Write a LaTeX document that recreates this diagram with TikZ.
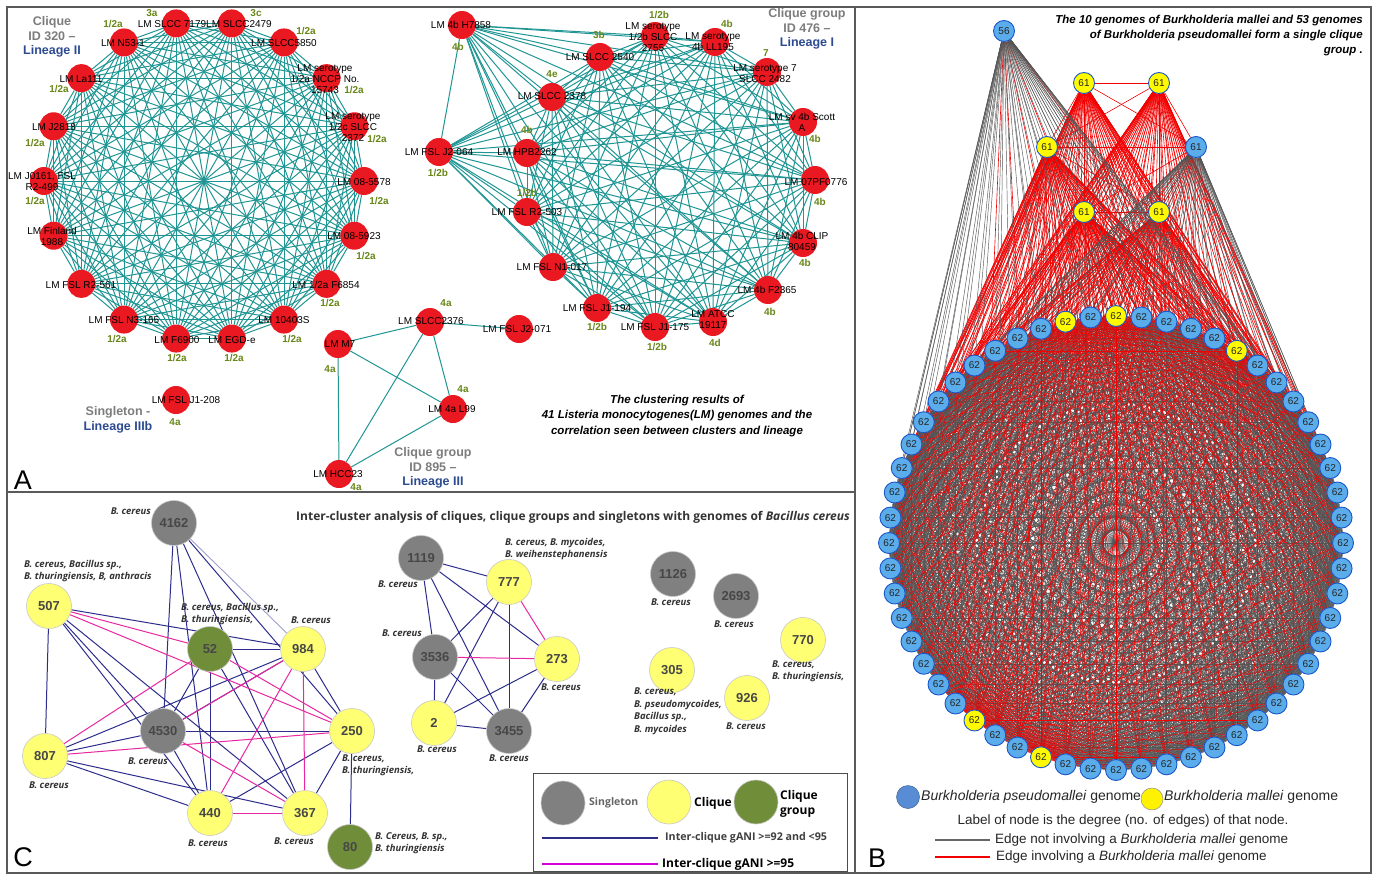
\documentclass[tikz,border=0pt]{standalone}
\usepackage{fontspec}
\setmainfont{Liberation Sans}
\newfontfamily\osans{Open Sans}
\pgfdeclarelayer{bg}
\pgfdeclarelayer{paper}
\pgfsetlayers{paper,bg,main}
\definecolor{framec}{RGB}{90,90,90}
\definecolor{tealE}{RGB}{32,150,148}
\definecolor{lmred}{RGB}{234,24,32}
\definecolor{sero}{RGB}{105,135,25}
\definecolor{ttlgray}{RGB}{125,125,125}
\definecolor{linblue}{RGB}{45,75,145}
\definecolor{cgray}{RGB}{128,128,128}
\definecolor{cyel}{RGB}{255,255,115}
\definecolor{cgreen}{RGB}{112,142,58}
\definecolor{cblue}{RGB}{45,45,140}
\definecolor{clav}{RGB}{160,160,210}
\definecolor{cmag}{RGB}{232,40,160}
\definecolor{lmag}{RGB}{215,0,215}
\definecolor{bblue}{RGB}{90,172,235}
\definecolor{bbord}{RGB}{25,85,200}
\definecolor{byel}{RGB}{255,250,0}
\definecolor{bgrayE}{RGB}{85,85,85}
\definecolor{bredE}{RGB}{242,0,0}
\definecolor{legblue}{RGB}{88,140,212}
\tikzset{
 rednode/.style={circle,fill=lmred,minimum size=28pt,inner sep=0},
 lmlab/.style={font=\fontsize{10}{11}\selectfont,align=center,inner sep=0,text=black},
 serolab/.style={font=\fontsize{10}{11}\selectfont\bfseries,inner sep=0,text=sero},
 ttl/.style={font=\fontsize{12.5}{14.5}\selectfont\bfseries,align=center,inner sep=0,text=ttlgray},
 tedge/.style={draw=tealE,line width=1pt},
 cnode/.style={circle,minimum size=45pt,inner sep=0,draw=black!22,line width=0.6pt,font=\fontsize{13}{13}\selectfont\bfseries,text=black!72},
 clab/.style={font=\osans\fontsize{9.5}{12.5}\selectfont\bfseries\itshape,inner sep=0,text=black!80,align=left},
 bE/.style={draw=cblue,line width=1pt},
 mE/.style={draw=cmag,line width=1pt},
 bnode/.style={circle,minimum size=21pt,inner sep=0,draw=bbord,line width=0.9pt,font=\fontsize{10}{10}\selectfont,text=black!85},
 gE/.style={draw=bgrayE,line width=0.45pt},
 rE/.style={draw=bredE,line width=0.6pt},
 capt/.style={font=\fontsize{11.5}{15.5}\selectfont\bfseries\itshape,inner sep=0,text=black},
 blegend/.style={font=\fontsize{14}{16}\selectfont,inner sep=0,text=black!85},
 panlet/.style={font=\fontsize{27}{27}\selectfont,inner sep=0}
}
\begin{document}
\begin{tikzpicture}[x=1pt,y=-1pt]
\useasboundingbox (0,0) rectangle (1377,875);
\begin{pgfonlayer}{paper}
\fill[white] (0,0) rectangle (1377,875);
\end{pgfonlayer}
% ================= PANEL A =================
\foreach \i in {0,...,17}
  \node[rednode] (L\i) at ({204+160*cos(100-20*\i)},{181-160*sin(100-20*\i)}) {};
\foreach \p [count=\k] in {(462,25),(600,57),(655,36),(715,42),(767,72),(803,122),(815,180),(803,243),(768,290),(713,322),(655,327),(597,308),(553,267),(527,212),(527,153),(439,152),(552,97)}
  \node[rednode] (R\k) at \p {};
\node[rednode] (M7) at (338,344) {};
\node[rednode] (S2376) at (430,322) {};
\node[rednode] (J2071) at (519,329) {};
\node[rednode] (L99) at (453,409) {};
\node[rednode] (HCC23) at (339,474) {};
\node[rednode] (J1208) at (176,400) {};
\begin{pgfonlayer}{bg}
\foreach \i in {0,...,16}{\pgfmathtruncatemacro\s{\i+1}\foreach \j in {\s,...,17}{\draw[tedge] (L\i) -- (L\j);}}
\foreach \i in {1,...,16}{\pgfmathtruncatemacro\s{\i+1}\foreach \j in {\s,...,17}{\draw[tedge] (R\i) -- (R\j);}}
\draw[tedge] (M7) -- (S2376); \draw[tedge] (S2376) -- (J2071);
\draw[tedge] (M7) -- (L99); \draw[tedge] (M7) -- (HCC23);
\draw[tedge] (S2376) -- (HCC23); \draw[tedge] (S2376) -- (L99);
\draw[tedge] (L99) -- (HCC23);
\end{pgfonlayer}
% left clique labels
\node[lmlab] (tL0) at (172,24) {LM SLCC 7179};
\node[lmlab] (tL1) at (239,24) {LM SLCC2479};
\node[lmlab] (tL2) at (284,43) {LM SLCC5850};
\node[lmlab] (tL3) at (325,79) {LM serotype\\1/2a NCCP No.\\15743};
\node[lmlab] (tL4) at (353,127) {LM serotype\\1/2c SLCC\\2372};
\node[lmlab] (tL5) at (364,182) {LM 08-5578};
\node[lmlab] (tL6) at (354,236) {LM 08-5923};
\node[lmlab] (tL7) at (326,285) {LM 1/2a F6854};
\node[lmlab] (tL8) at (284,320) {LM 10403S};
\node[lmlab] (tL9) at (232,340) {LM EGD-e};
\node[lmlab] (tL10) at (177,340) {LM F6900};
\node[lmlab] (tL11) at (124,320) {LM FSL N3-165};
\node[lmlab] (tL12) at (81,285) {LM FSL R2-561};
\node[lmlab] (tL13) at (52,236) {LM Finland\\1988};
\node[lmlab] (tL14) at (42,182) {LM J0161, FSL\\R2-499};
\node[lmlab] (tL15) at (54,127) {LM J2818};
\node[lmlab] (tL16) at (81,79) {LM La111};
\node[lmlab] (tL17) at (123,43) {LM N53-1};
\node[serolab] (sL0) at (152,13) {3a};
\node[serolab] (sL1) at (256,13) {3c};
\node[serolab] (sL2) at (306,31) {1/2a};
\node[serolab] (sL3) at (354,90) {1/2a};
\node[serolab] (sL4) at (377,139) {1/2a};
\node[serolab] (sL5) at (379,201) {1/2a};
\node[serolab] (sL6) at (366,256) {1/2a};
\node[serolab] (sL7) at (330,303) {1/2a};
\node[serolab] (sL8) at (292,339) {1/2a};
\node[serolab] (sL9) at (234,358) {1/2a};
\node[serolab] (sL10) at (177,358) {1/2a};
\node[serolab] (sL11) at (117,339) {1/2a};
\node[serolab] (sL14) at (35,201) {1/2a};
\node[serolab] (sL15) at (35,143) {1/2a};
\node[serolab] (sL16) at (59,89) {1/2a};
\node[serolab] (sL17) at (113,24) {1/2a};
\node[ttl] (ttlA1) at (52,37) {Clique\\ID 320 –\\\textcolor{linblue}{Lineage II}};
% right clique labels
\node[lmlab] (tR1) at (461,25) {LM 4b H7858};
\node[lmlab] (tR2) at (600,57) {LM SLCC 2540};
\node[lmlab] (tR3) at (653,37) {LM serotype\\1/2b SLCC\\2755};
\node[lmlab] (tR4) at (713,42) {LM serotype\\4b LL195};
\node[lmlab] (tR5) at (765,74) {LM serotype 7\\SLCC 2482};
\node[lmlab] (tR6) at (802,122) {LM sv 4b Scott\\A};
\node[lmlab] (tR7) at (816,182) {LM 07PF0776};
\node[lmlab] (tR8) at (802,241) {LM 4b CLIP\\80459};
\node[lmlab] (tR9) at (767,290) {LM 4b F2365};
\node[lmlab] (tR10) at (713,320) {LM ATCC\\19117};
\node[lmlab] (tR11) at (655,327) {LM FSL J1-175};
\node[lmlab] (tR12) at (597,308) {LM FSL J1-194};
\node[lmlab] (tR13) at (552,267) {LM FSL N1-017};
\node[lmlab] (tR14) at (527,212) {LM FSL R2-503};
\node[lmlab] (tR15) at (527,152) {LM HPB2262};
\node[lmlab] (tR16) at (439,152) {LM FSL J2-064};
\node[lmlab] (tR17) at (552,96) {LM SLCC 2378};
\node[serolab] (sR1) at (458,47) {4b};
\node[serolab] (sR2) at (599,35) {3b};
\node[serolab] (sR3) at (659,15) {1/2b};
\node[serolab] (sR4) at (727,24) {4b};
\node[serolab] (sR5) at (766,53) {7};
\node[serolab] (sR6) at (815,139) {4b};
\node[serolab] (sR7) at (820,202) {4b};
\node[serolab] (sR8) at (805,263) {4b};
\node[serolab] (sR9) at (770,312) {4b};
\node[serolab] (sR10) at (715,343) {4d};
\node[serolab] (sR11) at (657,347) {1/2b};
\node[serolab] (sR12) at (597,327) {1/2b};
\node[serolab] (sR14) at (527,193) {1/2b};
\node[serolab] (sR15) at (527,130) {4b};
\node[serolab] (sR16) at (438,173) {1/2b};
\node[serolab] (sR17) at (552,74) {4e};
\node[ttl] (ttlA2) at (807,29) {Clique group\\ID 476 –\\\textcolor{linblue}{Lineage I}};
% bottom group labels
\node[lmlab] (tM7) at (340,344) {LM M7};
\node[lmlab] (tS2376) at (431,321) {LM SLCC2376};
\node[lmlab] (tJ2071) at (517,329) {LM FSL J2-071};
\node[lmlab] (tL99) at (452,409) {LM 4a L99};
\node[lmlab] (tHCC) at (338,474) {LM HCC23};
\node[lmlab] (tJ1208) at (186,400) {LM FSL J1-208};
\node[serolab] (sM7) at (330,369) {4a};
\node[serolab] (sS2376) at (446,303) {4a};
\node[serolab] (sL99) at (463,389) {4a};
\node[serolab] (sHCC) at (356,487) {4a};
\node[serolab] (sJ1208) at (175,422) {4a};
\node[ttl] (ttlA3) at (433,468) {Clique group\\ID 895 –\\\textcolor{linblue}{Lineage III}};
\node[ttl] (ttlA4) at (118,420) {Singleton -\\\textcolor{linblue}{Lineage IIIb}};
\node[capt,align=center] (captA) at (677,416) {The clustering results of\\41 Listeria monocytogenes(LM) genomes and the\\correlation seen between clusters and lineage};
\node[panlet] (letA) at (23,480) {A};
% ================= PANEL C =================
\node[cnode,fill=cgray] (c4162) at (174,523) {4162};
\node[cnode,fill=cyel] (c507) at (49,606) {507};
\node[cnode,fill=cgreen] (c52) at (210,649) {52};
\node[cnode,fill=cyel] (c984) at (303,649) {984};
\node[cnode,fill=cgray] (c4530) at (163,731) {4530};
\node[cnode,fill=cyel] (c807) at (45,756) {807};
\node[cnode,fill=cyel] (c250) at (352,731) {250};
\node[cnode,fill=cyel] (c440) at (210,813) {440};
\node[cnode,fill=cyel] (c367) at (305,813) {367};
\node[cnode,fill=cgreen] (c80) at (350,847) {80};
\node[cnode,fill=cgray] (c1119) at (421,558) {1119};
\node[cnode,fill=cyel] (c777) at (509,582) {777};
\node[cnode,fill=cgray] (c3536) at (435,657) {3536};
\node[cnode,fill=cyel] (c273) at (557,659) {273};
\node[cnode,fill=cyel] (c2) at (434,723) {2};
\node[cnode,fill=cgray] (c3455) at (509,731) {3455};
\node[cnode,fill=cgray] (c1126) at (673,574) {1126};
\node[cnode,fill=cgray] (c2693) at (736,596) {2693};
\node[cnode,fill=cyel] (c770) at (803,640) {770};
\node[cnode,fill=cyel] (c305) at (672,670) {305};
\node[cnode,fill=cyel] (c926) at (747,698) {926};
\begin{pgfonlayer}{bg}
\foreach \a/\b in {4162/4530,4162/440,4162/367,4162/250,507/807,507/984,507/4530,507/440,507/367,52/984,52/440,52/367,52/4530,984/4530,984/250,807/984,807/4530,807/440,807/367,4530/250,4530/440,250/440,250/367,250/80,1119/777,1119/3536,1119/3455,1119/273,777/3536,777/2,777/3455,3536/2,3536/3455,2/273,2/3455,273/3455}
  \draw[bE] (c\a) -- (c\b);
\draw[draw=clav,line width=0.9pt] (c4162) -- (c984);
\foreach \a/\b in {507/52,507/250,52/807,52/250,984/4530,984/440,984/367,807/250,4530/367,440/367,777/273,3536/273}
  \draw[mE] (c\a) -- (c\b);
\end{pgfonlayer}
\node[clab,anchor=east] (lc4162) at (151,511) {B. cereus};
\node[clab,anchor=west] (lc507) at (24,571) {B. cereus, Bacillus sp.,\\B. thuringiensis, B, anthracis};
\node[clab,anchor=west] (lc52) at (181,614) {B. cereus, Bacillus sp.,\\B. thuringiensis,};
\node[clab] (lc984) at (311,620) {B. cereus};
\node[clab] (lc4530) at (148,761) {B. cereus};
\node[clab] (lc807) at (49,785) {B. cereus};
\node[clab,anchor=west] (lc250) at (342,765) {B. cereus,\\B. thuringiensis,};
\node[clab] (lc440) at (208,843) {B. cereus};
\node[clab] (lc367) at (294,841) {B. cereus};
\node[clab,anchor=west] (lc80) at (375,843) {B. Cereus, B. sp.,\\B. thuringiensis};
\node[clab] (lc1119) at (398,584) {B. cereus};
\node[clab,anchor=west] (lc777) at (505,549) {B. cereus, B. mycoides,\\B. weihenstephanensis};
\node[clab] (lc3536) at (402,633) {B. cereus};
\node[clab] (lc273) at (561,687) {B. cereus};
\node[clab] (lc2) at (437,749) {B. cereus};
\node[clab] (lc3455) at (509,758) {B. cereus};
\node[clab] (lc1126) at (671,602) {B. cereus};
\node[clab] (lc2693) at (734,624) {B. cereus};
\node[clab,anchor=west] (lc770) at (772,671) {B. cereus,\\B. thuringiensis,};
\node[clab,anchor=west] (lc305) at (634,711) {B. cereus,\\B. pseudomycoides,\\Bacillus sp.,\\B. mycoides};
\node[clab] (lc926) at (746,726) {B. cereus};
\node[anchor=west,inner sep=0,font=\osans\fontsize{12}{14}\selectfont\bfseries,text=black!80] (ttlC) at (296,517) {Inter-cluster analysis of cliques, clique groups and singletons with genomes of \textit{Bacillus cereus}};
% legend C
\node[draw=black!70,line width=0.8pt,minimum width=314pt,minimum height=98pt,inner sep=0] (legC) at (690,822) {};
\node[cnode,fill=cgray,minimum size=44pt] (lgS) at (563,803) {};
\node[cnode,fill=cyel,minimum size=44pt] (lgQ) at (669,802) {};
\node[cnode,fill=cgreen,minimum size=44pt] (lgG) at (756,802) {};
\node[anchor=west,inner sep=0,font=\osans\fontsize{10.5}{12}\selectfont\bfseries,text=black!60] (lgSt) at (589,803) {Singleton};
\node[anchor=west,inner sep=0,font=\osans\fontsize{12}{12}\selectfont\bfseries] (lgQt) at (694,803) {Clique};
\node[anchor=west,inner sep=0,align=left,font=\osans\fontsize{12}{14.5}\selectfont\bfseries] (lgGt) at (780,804) {Clique\\group};
\coordinate (lb1) at (542,838); \coordinate (lb2) at (658,838);
\coordinate (lm1) at (542,864); \coordinate (lm2) at (658,864);
\draw[draw=cblue,line width=1.4pt] (lb1) -- (lb2);
\draw[draw=lmag,line width=1.6pt] (lm1) -- (lm2);
\node[anchor=west,inner sep=0,font=\osans\fontsize{10.7}{12}\selectfont\bfseries,text=black!75] (lgBt) at (665,838) {Inter-clique gANI >=92 and <95};
\node[anchor=west,inner sep=0,font=\osans\fontsize{12}{12}\selectfont\bfseries] (lgMt) at (662,864) {Inter-clique gANI >=95};
\node[panlet] (letC) at (23,857) {C};
% ================= PANEL B =================
\foreach \k in {0,...,55}{%
  \def\f{0}%
  \ifnum\k=0 \def\f{1}\fi
  \ifnum\k=5 \def\f{1}\fi
  \ifnum\k=31 \def\f{1}\fi
  \ifnum\k=34 \def\f{1}\fi
  \ifnum\k=54 \def\f{1}\fi
  \expandafter\xdef\csname yf\k\endcsname{\f}%
  \ifnum\f=1 \def\stc{byel}\else\def\stc{bblue}\fi
  \node[bnode,fill=\stc] (C\k) at ({1116+227*sin(\k*6.4285714)},{543-227*cos(\k*6.4285714)}) {62};
}
\node[bnode,fill=bblue] (I0) at (1004,31) {56};
\node[bnode,fill=byel] (I1) at (1084,83) {61};
\node[bnode,fill=byel] (I2) at (1159,83) {61};
\node[bnode,fill=byel] (I3) at (1047,147) {61};
\node[bnode,fill=bblue] (I4) at (1196,147) {61};
\node[bnode,fill=byel] (I5) at (1084,212) {61};
\node[bnode,fill=byel] (I6) at (1159,212) {61};
\begin{pgfonlayer}{bg}
% red fans from inner nodes first
\foreach \k in {0,...,55}{%
  \foreach \m in {1,2,3,5,6}{\draw[rE] (I\m) -- (C\k);}%
  \ifnum\csname yf\k\endcsname=1 \draw[rE] (I0) -- (C\k); \draw[rE] (I4) -- (C\k);\fi
}
\foreach \a/\b in {1/2,1/3,1/4,1/5,1/6,2/3,2/4,2/5,2/6,3/4,3/5,3/6,4/5,4/6,5/6}
  \draw[rE] (I\a) -- (I\b);
% gray edges
\foreach \k in {0,...,55}{%
  \ifnum\csname yf\k\endcsname=0 \draw[gE] (I0) -- (C\k); \draw[gE] (I4) -- (C\k);\fi
}
\foreach \i in {0,...,54}{\pgfmathtruncatemacro\s{\i+1}\foreach \j in {\s,...,55}{%
  \ifnum\numexpr\csname yf\i\endcsname+\csname yf\j\endcsname\relax=0 \draw[gE] (C\i) -- (C\j);\fi}}
% red edges among ring nodes on top
\foreach \i in {0,...,54}{\pgfmathtruncatemacro\s{\i+1}\foreach \j in {\s,...,55}{%
  \ifnum\numexpr\csname yf\i\endcsname+\csname yf\j\endcsname\relax>0 \draw[rE,line width=0.45pt] (C\i) -- (C\j);\fi}}
\end{pgfonlayer}
\node[capt,anchor=north east,align=right,font=\fontsize{11.5}{15}\selectfont\bfseries\itshape] (ttlB) at (1363,15) {The 10 genomes of Burkholderia mallei and 53 genomes\\of Burkholderia pseudomallei form a single clique\\group .};
% legend B
\node[circle,fill=legblue,draw=legblue!70!black,line width=0.5pt,minimum size=23pt,inner sep=0] (lgBp) at (908,797) {};
\node[blegend,anchor=west] (lgBpt) at (921,797) {\textit{Burkholderia pseudomallei} genome};
\node[circle,fill=yellow,draw=black!45,line width=0.5pt,minimum size=22pt,inner sep=0] (lgBm) at (1152,799) {};
\node[blegend,anchor=west] (lgBmt) at (1164,797) {\textit{Burkholderia mallei} genome};
\node[blegend,font=\fontsize{13.5}{16}\selectfont] (lgBl) at (1123,821) {Label of node is the degree (no. of edges) of that node.};
\coordinate (lg1) at (935,840); \coordinate (lg2) at (990,840);
\coordinate (lr1) at (935,857); \coordinate (lr2) at (990,857);
\draw[draw=black!60,line width=1.5pt] (lg1) -- (lg2);
\draw[draw=bredE,line width=1.5pt] (lr1) -- (lr2);
\node[blegend,anchor=west,font=\fontsize{13.5}{16}\selectfont] (lgBg) at (995,840) {Edge not involving a \textit{Burkholderia mallei} genome};
\node[blegend,anchor=west,font=\fontsize{13.5}{16}\selectfont] (lgBr) at (996,857) {Edge involving a \textit{Burkholderia mallei} genome};
\node[panlet] (letB) at (877,858) {B};
% ================= FRAME =================
\draw[draw=framec,line width=1.1pt] (7,7) rectangle (1371,873);
\draw[draw=framec,line width=1.1pt] (855,7) -- (855,873);
\draw[draw=framec,line width=1.1pt] (7,492) -- (855,492);
\end{tikzpicture}
\end{document}
